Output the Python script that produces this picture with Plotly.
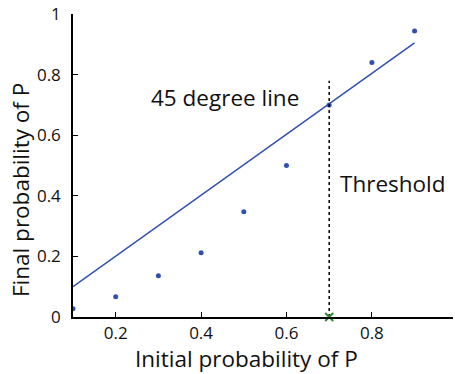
import plotly.graph_objects as go

initial_p = [0.1, 0.2, 0.3, 0.4, 0.5, 0.6, 0.7, 0.8, 0.9]
final_p = [0.027, 0.067, 0.136, 0.212, 0.347, 0.5, 0.70, 0.84, 0.944]
line_x = [0.1, 0.9]
line_y = [0.1, 0.905]
threshold = 0.7
threshold_top = 0.78
x_ticks = [0.2, 0.4, 0.6, 0.8, 1.0]
y_ticks = [0, 0.2, 0.4, 0.6, 0.8, 1]

BLUE = "#2f4fb3"
FONT = "Open Sans"

L, R, T, B = 73, 2, 14, 57
W, H = 455, 374
pw = W - L - R
ph = H - T - B

fig = go.Figure()
fig.add_trace(go.Scatter(x=line_x, y=line_y, mode="lines",
                         line=dict(color=BLUE, width=1.5), showlegend=False))
fig.add_trace(go.Scatter(x=initial_p, y=final_p, mode="markers",
                         marker=dict(color=BLUE, size=5), showlegend=False))
fig.add_trace(go.Scatter(x=[threshold, threshold], y=[0, threshold_top], mode="lines",
                         line=dict(color="black", width=1.5, dash="dot"), showlegend=False))
fig.add_trace(go.Scatter(x=[threshold], y=[0], mode="markers",
                         marker=dict(color="#2e8b2e", size=8, symbol="x-thin",
                                     line=dict(color="#2e8b2e", width=2)),
                         showlegend=False, cliponaxis=False))

fig.add_annotation(x=0.456, y=0.725, text="45 degree line", showarrow=False,
                   xanchor="center", yanchor="middle",
                   font=dict(family=FONT, size=22.5, color="#111"))
fig.add_annotation(x=0.72, y=0.44, text="Threshold", showarrow=False,
                   xanchor="left", yanchor="middle",
                   font=dict(family=FONT, size=22.5, color="#111"))
fig.add_annotation(x=(246 - L) / pw, y=(H - B - 358) / ph, xref="paper", yref="paper",
                   text="Initial probability of P", showarrow=False, borderpad=0,
                   xanchor="center", yanchor="middle",
                   font=dict(family=FONT, size=22.5, color="#111"))
fig.add_annotation(x=(21 - L) / pw, y=(H - B - 190) / ph, xref="paper", yref="paper",
                   text="Final probability of P", showarrow=False, textangle=-90, borderpad=0,
                   xanchor="center", yanchor="middle",
                   font=dict(family=FONT, size=22.5, color="#111"))

fig.update_layout(
    width=W, height=H,
    margin=dict(l=L, r=R, t=T, b=B),
    paper_bgcolor="white", plot_bgcolor="white",
    font=dict(family=FONT, size=17, color="#111"),
    xaxis=dict(range=[0.1, 0.99], tickvals=x_ticks, ticktext=[str(v) for v in x_ticks],
               ticks="inside", ticklen=5, tickcolor="black", showline=True,
               linecolor="black", linewidth=1.5, showgrid=False, zeroline=False),
    yaxis=dict(range=[0, 1], tickvals=y_ticks, ticktext=["0", "0.2", "0.4", "0.6", "0.8", "1"],
               ticks="inside", ticklen=5, tickcolor="black", showline=True,
               linecolor="black", linewidth=1.5, showgrid=False, zeroline=False,
               ticklabelstandoff=7),
)

fig.write_html("out.html", config={"displayModeBar": False},
               post_script="document.body.style.margin='0';")
